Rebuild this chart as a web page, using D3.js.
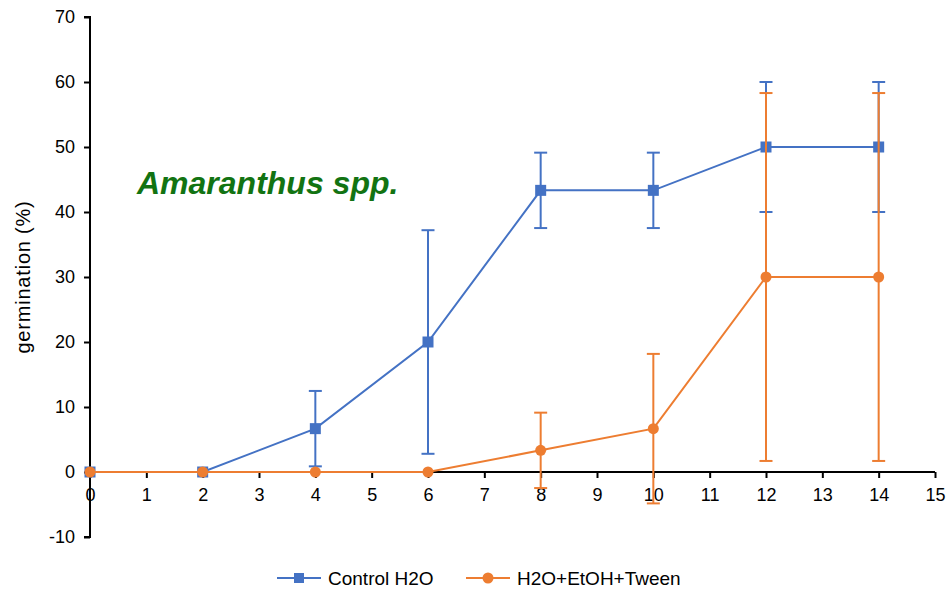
<!DOCTYPE html>
<html>
<head>
<meta charset="utf-8">
<script src="https://cdn.jsdelivr.net/npm/d3@7"></script>
<style>
  body { margin: 0; background: #fff; }
  text { font-family: "Liberation Sans", Arial, sans-serif; }
</style>
</head>
<body>
<script>
// germination over days, two treatments, with error bars
var days = [0, 2, 4, 6, 8, 10, 12, 14];
var controlVals = [0, 0, 6.67, 20, 43.33, 43.33, 50, 50];
var controlErr  = [0, 0, 5.8, 17.2, 5.8, 5.8, 10, 10];
var tweenVals = [0, 0, 0, 0, 3.33, 6.67, 30, 30];
var tweenErr  = [0, 0, 0, 0, 5.8, 11.5, 28.3, 28.3];
var xTicks = d3.range(0, 16, 1);
var yTicks = d3.range(-10, 71, 10);
var seriesNames = ["Control H2O", "H2O+EtOH+Tween"];

var blue = "#4472C4", orange = "#ED7D31";

var width = 951, height = 593;
var svg = d3.select("body").append("svg")
    .attr("width", width)
    .attr("height", height);

var x = d3.scaleLinear().domain([0, 15]).range([90, 935]);
var y = d3.scaleLinear().domain([-10, 70]).range([537, 17]);

// y axis
var yAxis = svg.append("g")
    .attr("transform", "translate(" + x(0) + ",0)")
    .call(d3.axisLeft(y).tickValues(yTicks).tickFormat(function(d) { return String(d); })
        .tickSize(6).tickPadding(9));
yAxis.select(".domain").attr("stroke", "#000").attr("stroke-width", 2)
    .attr("d", "M-6," + y(70) + "H0V" + y(-10) + "H-6");
yAxis.selectAll(".tick line").attr("stroke", "#000").attr("stroke-width", 2);
yAxis.selectAll(".tick text").style("font-size", "18px").attr("fill", "#000");

// x axis at y = 0
var xAxis = svg.append("g")
    .attr("transform", "translate(0," + y(0) + ")")
    .call(d3.axisBottom(x).tickValues(xTicks).tickSize(6).tickPadding(10));
xAxis.select(".domain").attr("stroke", "#000").attr("stroke-width", 2)
    .attr("d", "M" + x(0) + ",0H" + x(15));
xAxis.selectAll(".tick line").attr("stroke", "#000").attr("stroke-width", 2);
xAxis.selectAll(".tick text").style("font-size", "18px").attr("fill", "#000");

// y label
svg.append("text")
    .attr("transform", "translate(30,277) rotate(-90)")
    .attr("text-anchor", "middle")
    .style("font-size", "20px")
    .style("letter-spacing", "0.8px")
    .text("germination (%)");

function drawSeries(vals, errs, color, shape) {
    var data = days.map(function(d, i) { return {day: d, v: vals[i], e: errs[i]}; });
    var g = svg.append("g");

    var line = d3.line()
        .x(function(d) { return x(d.day); })
        .y(function(d) { return y(d.v); });

    g.append("path")
        .datum(data)
        .attr("fill", "none")
        .attr("stroke", color)
        .attr("stroke-width", 2)
        .attr("d", line);

    var eb = g.selectAll(".err")
        .data(data.filter(function(d) { return d.e > 0; }))
        .enter().append("g");
    eb.append("line")
        .attr("x1", function(d) { return x(d.day); })
        .attr("x2", function(d) { return x(d.day); })
        .attr("y1", function(d) { return y(d.v + d.e); })
        .attr("y2", function(d) { return y(d.v - d.e); })
        .attr("stroke", color).attr("stroke-width", 2);
    [1, -1].forEach(function(s) {
        eb.append("line")
            .attr("x1", function(d) { return x(d.day) - 6.5; })
            .attr("x2", function(d) { return x(d.day) + 6.5; })
            .attr("y1", function(d) { return y(d.v + s * d.e); })
            .attr("y2", function(d) { return y(d.v + s * d.e); })
            .attr("stroke", color).attr("stroke-width", 2);
    });

    if (shape == "square") {
        g.selectAll(".pt").data(data).enter().append("rect")
            .attr("x", function(d) { return x(d.day) - 5.5; })
            .attr("y", function(d) { return y(d.v) - 5.5; })
            .attr("width", 11).attr("height", 11)
            .attr("fill", color);
    } else {
        g.selectAll(".pt").data(data).enter().append("circle")
            .attr("cx", function(d) { return x(d.day); })
            .attr("cy", function(d) { return y(d.v); })
            .attr("r", 5.5)
            .attr("fill", color);
    }
}

drawSeries(controlVals, controlErr, blue, "square");
drawSeries(tweenVals, tweenErr, orange, "circle");

// species title
svg.append("text")
    .attr("x", 137)
    .attr("y", 194)
    .attr("fill", "#127312")
    .style("font-size", "32px")
    .style("font-weight", "bold")
    .style("font-style", "italic")
    .text("Amaranthus spp.");

// legend
var legend = svg.append("g").attr("transform", "translate(0,578)");
var legItems = [
    {name: seriesNames[0], color: blue, shape: "square", x0: 277},
    {name: seriesNames[1], color: orange, shape: "circle", x0: 466}
];
legItems.forEach(function(it) {
    legend.append("line")
        .attr("x1", it.x0).attr("x2", it.x0 + 44)
        .attr("stroke", it.color).attr("stroke-width", 2);
    if (it.shape == "square") {
        legend.append("rect").attr("x", it.x0 + 17).attr("y", -5)
            .attr("width", 10).attr("height", 10).attr("fill", it.color);
    } else {
        legend.append("circle").attr("cx", it.x0 + 22).attr("r", 5.5).attr("fill", it.color);
    }
    legend.append("text")
        .attr("x", it.x0 + 51)
        .attr("dy", "0.35em")
        .style("font-size", "19px")
        .text(it.name);
});
</script>
</body>
</html>
